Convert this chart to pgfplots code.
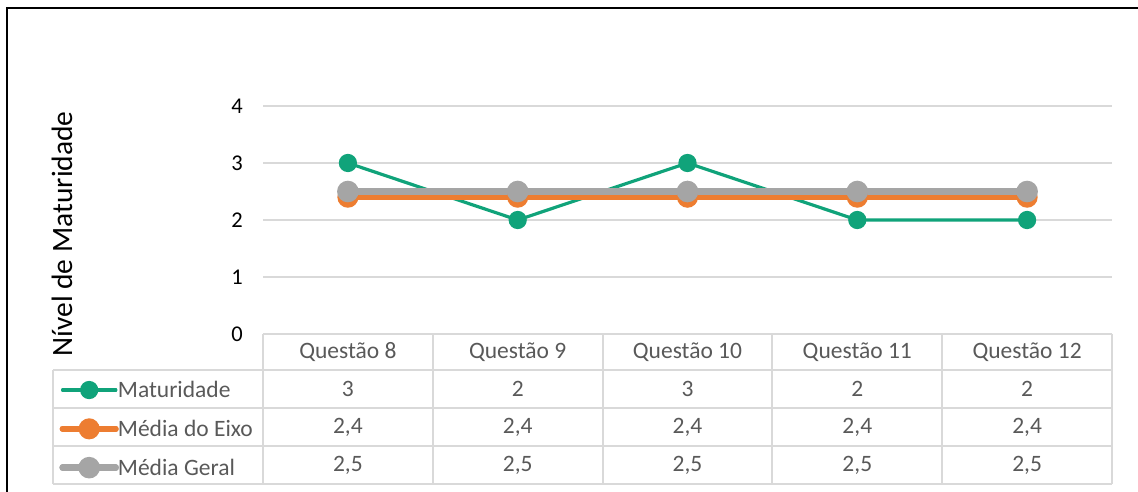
\documentclass[border=0pt]{standalone}
\usepackage{pgfplots}
\pgfplotsset{compat=1.18}
\usepackage{fontspec}
\setmainfont{Carlito}
\definecolor{cmat}{RGB}{16,163,122}
\definecolor{ceixo}{RGB}{237,125,49}
\definecolor{cgeral}{RGB}{165,165,165}
\definecolor{cgrid}{RGB}{217,217,217}
\definecolor{ctxt}{RGB}{89,89,89}
\begin{document}
\begin{tikzpicture}[x=1pt,y=1pt]
\useasboundingbox (0,0) rectangle (1138,492);
% frame (left and top only)
\draw[line width=2.5pt] (7,0) -- (7,484) -- (1138,484);
\begin{axis}[
  at={(263pt,158pt)}, anchor=south west,
  scale only axis, width=849pt, height=228pt,
  xmin=0.5, xmax=5.5, ymin=0, ymax=4,
  ytick={0,1,2,3,4}, xtick=\empty,
  axis line style={draw=none}, major tick length=0pt,
  ymajorgrids, grid style={cgrid, line width=1.5pt},
  clip=false,
  tick label style={font=\fontsize{22.5}{26}\selectfont, text=black},
  yticklabel style={inner sep=0pt, xshift=-20pt},
  /pgf/number format/assume math mode=true,
  legend style={at={(-0.240,-0.197)}, anchor=north west, draw=none, fill=none,
    inner sep=0pt, row sep=17pt, font=\fontsize{23.5}{26}\selectfont,
    text=ctxt, cells={anchor=west},
    /tikz/every odd column/.append style={column sep=-3pt}},
  legend image code/.code={
    \draw[#1] (0pt,0pt) -- (53pt,0pt);
    \draw[#1, mark repeat=2, mark phase=2] plot coordinates {(0pt,0pt) (26.5pt,0pt) (53pt,0pt)};
  },
]
\addplot[cmat, line width=3.2pt, line cap=round, mark=*, mark size=7.5pt] coordinates {(1,3) (2,2) (3,3) (4,2) (5,2)};
\addplot[ceixo, line width=6pt, line cap=round, mark=*, mark size=7.5pt] coordinates {(1,2.4) (2,2.4) (3,2.4) (4,2.4) (5,2.4)};
\addplot[cgeral, line width=6.5pt, line cap=round, mark=*, mark size=7.5pt] coordinates {(1,2.5) (2,2.5) (3,2.5) (4,2.5) (5,2.5)};
\legend{Maturidade, Média do Eixo, Média Geral}
\end{axis}
% y label
\node[rotate=90, font=\fontsize{29.5}{34}\selectfont] at (62,258) {Nível de Maturidade};
% data table grid
\begin{scope}[cgrid, line width=2pt]
  \draw (263,158) -- (1112,158);
  \foreach \y in {122,84,46,8} \draw (53,\y) -- (1112,\y);
  \draw (53,122) -- (53,8);
  \foreach \x in {263,432.8,602.6,772.4,942.2,1112} \draw (\x,158) -- (\x,8);
\end{scope}
\begin{scope}[font=\fontsize{23.5}{26}\selectfont, text=ctxt]
  \foreach \i/\q in {1/8,2/9,3/10,4/11,5/12} {
    \node at ({263+169.8*(\i-0.5)},140) {Questão \q};
  }
  \foreach \i/\v in {1/3,2/2,3/3,4/2,5/2} \node at ({263+169.8*(\i-0.5)},103) {\v};
  \foreach \i in {1,...,5} \node at ({263+169.8*(\i-0.5)},65) {2,4};
  \foreach \i in {1,...,5} \node at ({263+169.8*(\i-0.5)},27) {2,5};
\end{scope}
\end{tikzpicture}
\end{document}
